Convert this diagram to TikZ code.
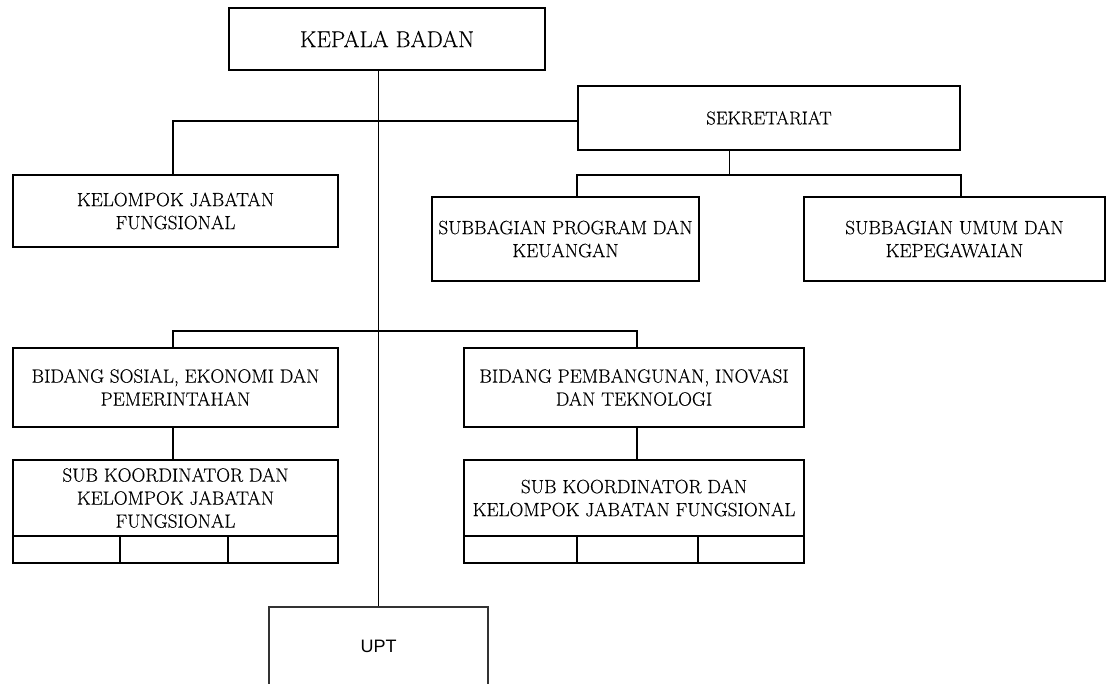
\documentclass[tikz,border=0pt]{standalone}
\usepackage{fontspec}
\setmainfont{Latin Modern Roman}[FakeBold=0.25]
\newfontfamily\uptfont{Liberation Sans}
\begin{document}
\begin{tikzpicture}[x=1pt,y=-1pt,
  box/.style={draw=black, line width=2pt, inner sep=0pt, align=center,
    font=\fontsize{19.2}{23}\selectfont},
  conn/.style={draw=black, line width=2pt},
  thinconn/.style={draw=black, line width=1.3pt},
  uptbox/.style={draw=black!80, line width=1.1pt, inner sep=0pt, align=center}]
\clip (0,0) rectangle (1107,683);
\fill[white] (0,0) rectangle (1107,683);

% boxes
\node[box, minimum width=316pt, minimum height=62pt, font=\fontsize{23}{27}\selectfont] (kepala) at (387,39) {KEPALA BADAN};
\node[box, minimum width=325pt, minimum height=72pt] (kjf) at (175.5,211) {KELOMPOK JABATAN\\FUNGSIONAL};
\node[box, minimum width=382pt, minimum height=64pt, font=\fontsize{18.6}{22}\selectfont] (sek) at (769,118) {SEKRETARIAT};
\node[box, minimum width=267pt, minimum height=84pt] (spk) at (565.5,239) {SUBBAGIAN PROGRAM DAN\\KEUANGAN};
\node[box, minimum width=301pt, minimum height=84pt] (suk) at (954.5,239) {SUBBAGIAN UMUM DAN\\KEPEGAWAIAN};
\node[box, minimum width=325pt, minimum height=79pt] (bsep) at (175.5,387.5) {BIDANG SOSIAL, EKONOMI DAN\\PEMERINTAHAN};
\node[box, minimum width=340pt, minimum height=79pt] (bpit) at (634,387.5) {BIDANG PEMBANGUNAN, INOVASI\\DAN TEKNOLOGI};
\node[box, minimum width=325pt, minimum height=76pt] (skl) at (175.5,498) {SUB KOORDINATOR DAN\\KELOMPOK JABATAN\\FUNGSIONAL};
\node[box, minimum width=325pt, minimum height=27pt] (sklc) at (175.5,549.5) {};
\node[box, minimum width=340pt, minimum height=76pt] (skr) at (634,498) {SUB KOORDINATOR DAN\\KELOMPOK JABATAN FUNGSIONAL};
\node[box, minimum width=340pt, minimum height=27pt] (skrc) at (634,549.5) {};
\node[uptbox, minimum width=219pt, minimum height=150pt] (upt) at (378.5,682) {};
\node[font=\uptfont\fontsize{18}{21}\selectfont, inner sep=0pt] (upttext) at (378.5,646) {UPT};

% cell dividers
\draw[conn] (sklc.north west) ++(107.7,0) coordinate (c1) -- (c1 |- sklc.south);
\draw[conn] (sklc.north west) ++(216.3,0) coordinate (c2) -- (c2 |- sklc.south);
\draw[conn] (skrc.north west) ++(114,0) coordinate (c3) -- (c3 |- skrc.south);
\draw[conn] (skrc.north west) ++(235,0) coordinate (c4) -- (c4 |- skrc.south);

% junction coordinates
\coordinate (jtop) at (0,121);
\coordinate (jsek) at (729,175);
\coordinate (jmid) at (0,331);

% main trunk
\draw[thinconn] (kepala.south -| upt.north) -- (upt.north);

% kelompok jabatan fungsional + sekretariat
\draw[conn] ([xshift=-2.5pt]kjf.north) |- (jtop -| sek.west);

% sekretariat subbranches
\draw[draw=black, line width=1pt] (sek.south -| jsek) -- (jsek);
\draw[conn] (spk.north -| sek.west) -- (jsek -| sek.west) -- (jsek -| sek.east) -- (suk.north -| sek.east);

% bidang
\draw[conn] ([xshift=-3pt]bsep.north) |- (jmid -| 637,0) -- ([xshift=3pt]bpit.north);
\draw[conn] ([xshift=-3pt]bsep.south) -- ([xshift=-3pt]skl.north);
\draw[conn] ([xshift=3pt]bpit.south) -- ([xshift=3pt]skr.north);
\end{tikzpicture}
\end{document}
